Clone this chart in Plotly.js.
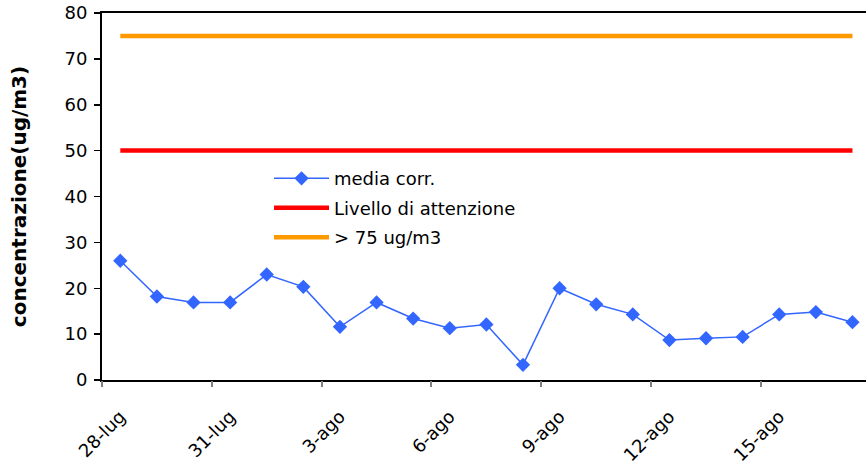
<!DOCTYPE html>
<html>
<head>
<meta charset="utf-8">
<script src="https://cdn.plot.ly/plotly-3.0.1.min.js"></script>
<style>html,body{margin:0;padding:0;background:#fff}#chart{width:866px;height:468px}</style>
</head>
<body>
<div id="chart"></div>
<script>
var categories = ["28-lug","29-lug","30-lug","31-lug","1-ago","2-ago","3-ago","4-ago","5-ago","6-ago","7-ago","8-ago","9-ago","10-ago","11-ago","12-ago","13-ago","14-ago","15-ago","16-ago","17-ago"];
var mediaCorr = [26.0,18.2,16.9,16.9,23.0,20.3,11.6,16.9,13.4,11.3,12.1,3.3,20.0,16.5,14.3,8.7,9.1,9.4,14.3,14.8,12.6];
var livelloAttenzione = 50;
var soglia75 = 75;
var seriesNames = ["media corr.","Livello di attenzione","> 75 ug/m3"];
var labelStep = 3;

var idx = categories.map(function(_, i){ return i; });
var labelVals = idx.filter(function(i){ return i % labelStep === 0; });
var labelText = labelVals.map(function(i){ return categories[i]; });
var tickBounds = labelVals.map(function(i){ return i - 0.5; });
var xRange = [-0.5, 20.37];

var font = "Tahoma, 'DejaVu Sans', 'Noto Sans', sans-serif";

var traces = [
  {x: idx, y: mediaCorr, name: seriesNames[0], legendgroup: "a", type: "scatter", mode: "lines+markers",
   line: {color: "#3366FF", width: 1.5}, marker: {symbol: "diamond", size: 11, color: "#3366FF"}},
  {x: idx, y: idx.map(function(){ return livelloAttenzione; }), name: seriesNames[1], legendgroup: "b", type: "scatter", mode: "lines",
   line: {color: "#FF0000", width: 4.5}},
  {x: idx, y: idx.map(function(){ return soglia75; }), name: seriesNames[2], legendgroup: "c", type: "scatter", mode: "lines",
   line: {color: "#FF9900", width: 4.5}},
  {x: [xRange[0]], y: [null], xaxis: "x2", showlegend: false, hoverinfo: "skip", mode: "lines"}
];

var layout = {
  width: 866, height: 468,
  margin: {l: 102, r: 0, t: 13, b: 88},
  paper_bgcolor: "#fff", plot_bgcolor: "#fff",
  font: {family: font, color: "#000", size: 17},
  showlegend: true,
  legend: {x: 0.2186, y: 0.599, xanchor: "left", yanchor: "top", bgcolor: "rgba(0,0,0,0)",
           font: {size: 18, family: font}, itemwidth: 55, traceorder: "grouped", tracegroupgap: 3},
  xaxis: {range: xRange, showgrid: false, zeroline: false, showline: true, linecolor: "#000", linewidth: 2,
          mirror: true, tickmode: "array", tickvals: labelVals, ticktext: labelText, tickangle: -45,
          ticks: "", tickfont: {size: 18}, ticklabelstandoff: 17},
  xaxis2: {range: xRange, overlaying: "x", side: "bottom", showgrid: false, zeroline: false, showline: false,
           tickmode: "array", tickvals: tickBounds, ticks: "outside", ticklen: 6, tickwidth: 2, tickcolor: "#808080",
           showticklabels: false},
  yaxis: {range: [0, 80], dtick: 10, showgrid: false, zeroline: false, showline: true, linecolor: "#000", linewidth: 2,
          ticks: "outside", ticklen: 6, tickwidth: 1.5, tickcolor: "#000", tickfont: {size: 18}, ticklabelstandoff: 3,
          title: {text: "<b>concentrazione(ug/m3)</b>", font: {size: 20}, standoff: 32}}
};

Plotly.newPlot("chart", traces, layout, {displayModeBar: false, staticPlot: true});
</script>
</body>
</html>
